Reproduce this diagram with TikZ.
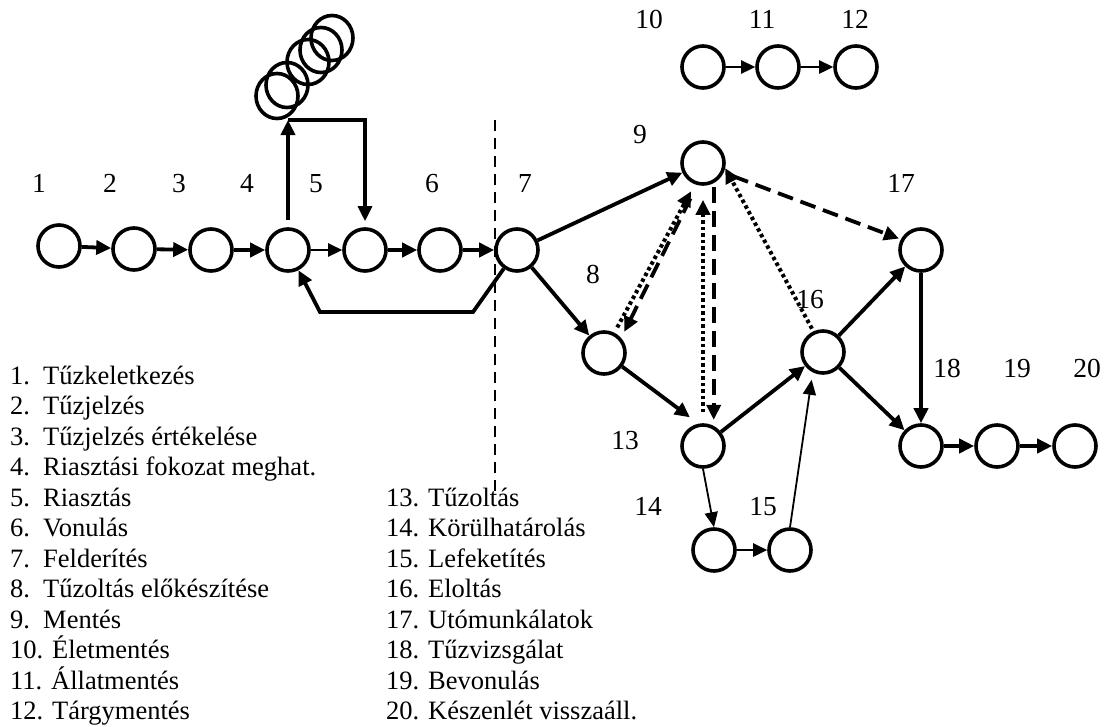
\documentclass[tikz,border=0pt]{standalone}
\usepackage{fontspec}
\setmainfont{Liberation Serif}
\usetikzlibrary{arrows.meta}

\begin{document}
\begin{tikzpicture}[x=1pt,y=-1pt,
  stage/.style={circle,draw,line width=3.6pt,minimum size=42pt,inner sep=0pt},
  ring/.style={draw,line width=3.6pt},
  num/.style={font=\fontsize{27.5pt}{30pt}\selectfont,anchor=base,inner sep=0pt},
  item/.style={font=\fontsize{26.5pt}{30pt}\selectfont,anchor=base west,inner sep=0pt},
  head/.style={-{Triangle[length=15pt,width=14pt]}},
  flow/.style={head,line width=3.8pt},
  midflow/.style={line width=2.6pt,-{Triangle[length=14pt,width=13pt]}},
  thinflow/.style={line width=1.8pt,-{Triangle[length=15pt,width=13pt]}},
  dotflow/.style={head,line width=4pt,dash pattern=on 3.5pt off 3pt},
  dashflow/.style={head,line width=3.8pt,dash pattern=on 16pt off 8pt},
  divider/.style={line width=2.6pt,dash pattern=on 11pt off 7pt},
]
\useasboundingbox (0,0) rectangle (1111,726);

% ---- stage circles ----
\node[stage] (n1)  at (59,246)  {};
\node[stage] (n2)  at (134,249) {};
\node[stage] (n3)  at (211,250) {};
\node[stage] (n4)  at (288,250) {};
\node[stage] (n5)  at (365,250) {};
\node[stage] (n6)  at (440,250) {};
\node[stage] (n7)  at (517,250) {};
\node[stage] (n8)  at (604,353) {};
\node[stage] (n9)  at (703,163) {};
\node[stage] (n10) at (703,67)  {};
\node[stage] (n11) at (778,67)  {};
\node[stage] (n12) at (856,67)  {};
\node[stage] (n13) at (703,446) {};
\node[stage] (n14) at (714,550) {};
\node[stage] (n15) at (790,550) {};
\node[stage] (n16) at (823,352) {};
\node[stage] (n17) at (921,250) {};
\node[stage] (n18) at (921,446) {};
\node[stage] (n19) at (997,446) {};
\node[stage] (n20) at (1075,446) {};

% ---- stack of alarm units ----
\draw[ring] (277,96) ellipse [x radius=21pt, y radius=22.5pt];
\draw[ring] (287,85) ellipse [x radius=21pt, y radius=22.5pt];
\draw[ring] (308,62) ellipse [x radius=21pt, y radius=22.5pt];
\draw[ring] (321,50) ellipse [x radius=21pt, y radius=22.5pt];
\draw[ring] (332,38) ellipse [x radius=21pt, y radius=22.5pt];

% ---- stage numbers ----
\node[num] (l1)  at (39,192)   {1};
\node[num] (l2)  at (110,192)  {2};
\node[num] (l3)  at (179,192)  {3};
\node[num] (l4)  at (247,192)  {4};
\node[num] (l5)  at (316,192)  {5};
\node[num] (l6)  at (432,192)  {6};
\node[num] (l7)  at (525,192)  {7};
\node[num] (l8)  at (593,283)  {8};
\node[num] (l9)  at (640,143)  {9};
\node[num] (l10) at (649,28)   {10};
\node[num] (l11) at (762,28)   {11};
\node[num] (l12) at (855,28)   {12};
\node[num] (l13) at (625,449)  {13};
\node[num] (l14) at (648,515)  {14};
\node[num] (l15) at (763,515)  {15};
\node[num] (l16) at (810,308)  {16};
\node[num] (l17) at (901,192)  {17};
\node[num] (l18) at (947,377)  {18};
\node[num] (l19) at (1017,377) {19};
\node[num] (l20) at (1087,377) {20};

% ---- main chain ----
\draw[flow] (n1) -- (n2);
\draw[flow] (n2) -- (n3);
\draw[flow] (n3) -- (n4);
\draw[midflow] (n4) -- (n5);
\draw[flow] (n5) -- (n6);
\draw[flow] (n6) -- (n7);

% alarm loop above stages 4 and 5
\coordinate (up)   at (288,120);
\coordinate (over) at (365,120);
\draw[flow,shorten <=7pt] (n4.north) -- (up);
\draw[flow,line width=3.2pt,shorten >=6pt] (up) -- (over) -- (n5.north);

% return from reconnaissance
\coordinate (r1) at (473,312);
\coordinate (r2) at (320,312);
\draw[flow] (n7) -- (r1) -- (r2) -- (n4);

% divider
\coordinate (sepTop) at (495,120);
\coordinate (sepBot) at (495,496);
\draw[divider] (sepTop) -- (sepBot);

% ---- rescue chain ----
\draw[midflow] (n10) -- (n11);
\draw[midflow] (n11) -- (n12);

% ---- intervention network ----
\draw[flow] (n7) -- (n9);
\draw[flow] (n7) -- (n8);
\draw[flow] (n8) -- ([yshift=10pt]n13.125);
\draw[flow] (n13) -- (n16);
\draw[flow] (n16) -- (n17);
\draw[flow] (n16) -- (n18);
\draw[flow] (n17) -- (n18);
\draw[flow] (n18) -- (n19);
\draw[flow] (n19) -- (n20);

\draw[thinflow] (n13.south) -- (n14.north);
\draw[midflow] (n14) -- (n15);
\draw[thinflow] (n15.north) -- ([yshift=-8pt]n16.240);

% links with the rescue stage
\draw[dotflow,shorten <=6pt,shorten >=8pt] (n8.63) -- (n9.249);
\draw[dashflow,shorten <=15pt,shorten >=7pt] (n9.-105) -- (n8.41);
\draw[dotflow,shorten <=11pt,shorten >=14pt] (n13.north) -- (n9.south);
\draw[dashflow,shorten <=4pt,shorten >=6pt] (n9.-62) -- (n13.62);
\draw[dotflow,shorten <=3pt] (n16.115) -- (n9.-13);
\draw[dashflow,shorten <=10pt,shorten >=2pt] (n9.-25) -- (n17.152);

% ---- legend ----
\node[item] (k1n) at (10,384.3) {1.};  \node[item] (k1) at (43,384.3) {Tűzkeletkezés};
\node[item] (k2n) at (10,414.8) {2.};  \node[item] (k2) at (43,414.8) {Tűzjelzés};
\node[item] (k3n) at (10,445.3) {3.};  \node[item] (k3) at (43,445.3) {Tűzjelzés értékelése};
\node[item] (k4n) at (10,475.8) {4.};  \node[item] (k4) at (43,475.8) {Riasztási fokozat meghat.};
\node[item] (k5n) at (10,506.3) {5.};  \node[item] (k5) at (43,506.3) {Riasztás};
\node[item] (k6n) at (10,536.8) {6.};  \node[item] (k6) at (43,536.8) {Vonulás};
\node[item] (k7n) at (10,567.3) {7.};  \node[item] (k7) at (43,567.3) {Felderítés};
\node[item] (k8n) at (10,597.8) {8.};  \node[item] (k8) at (43,597.8) {Tűzoltás előkészítése};
\node[item] (k9n) at (10,628.3) {9.};  \node[item] (k9) at (43,628.3) {Mentés};
\node[item] (k10) at (10,658.8) {10. Életmentés};
\node[item] (k11) at (10,689.3) {11. Állatmentés};
\node[item] (k12) at (10,719.8) {12. Tárgymentés};

\node[item] (k13) at (386,506.3) {13. Tűzoltás};
\node[item] (k14) at (386,536.8) {14. Körülhatárolás};
\node[item] (k15) at (386,567.3) {15. Lefeketítés};
\node[item] (k16) at (386,597.8) {16. Eloltás};
\node[item] (k17) at (386,628.3) {17. Utómunkálatok};
\node[item] (k18) at (386,658.8) {18. Tűzvizsgálat};
\node[item] (k19) at (386,689.3) {19. Bevonulás};
\node[item] (k20) at (386,719.8) {20. Készenlét visszaáll.};
\end{tikzpicture}
\end{document}
